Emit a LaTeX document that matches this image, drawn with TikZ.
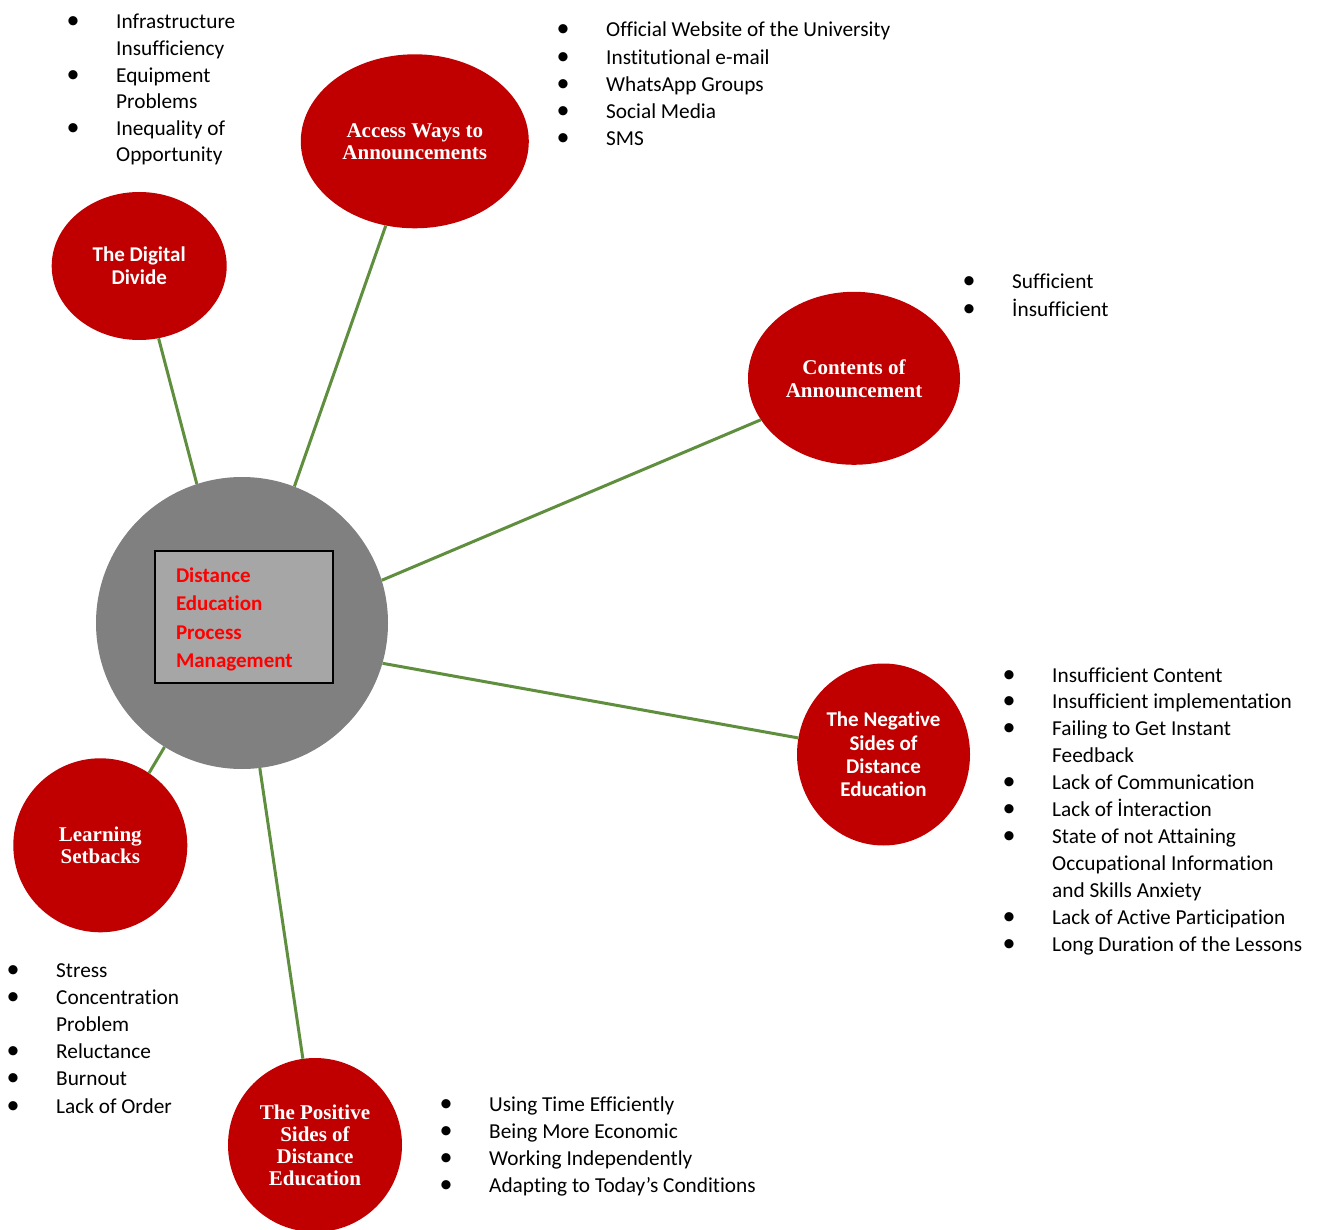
\documentclass[tikz,border=0pt]{standalone}
\usepackage{fontspec}
\setmainfont{Carlito}[Ligatures={NoCommon}]
\newfontfamily\tnrfont{Liberation Serif}
\usetikzlibrary{shapes.geometric}
\definecolor{dred}{HTML}{C00000}
\definecolor{lgreen}{HTML}{5F8F3E}
\definecolor{hubgray}{HTML}{808080}
\definecolor{boxgray}{HTML}{A6A6A6}
\newcommand{\bitem}[1]{\makebox[0pt]{\fontsize{26}{26}\selectfont\textbullet}\hspace{43pt}#1}
\newcommand{\bcont}[1]{\hspace{43pt}#1}
\tikzset{
  lst/.style={font=\fontsize{21.3}{#1}\selectfont, inner sep=0pt, anchor=base west},
  blob/.style={ellipse, fill=dred, draw=none, inner sep=0pt, text=white, align=center},
  tnrlab/.style={font=\tnrfont\bfseries\fontsize{21}{22}\selectfont},
  cablab/.style={font=\bfseries\fontsize{21}{23.3}\selectfont},
  conn/.style={draw=lgreen, line width=3pt}
}
\begin{document}
\begin{tikzpicture}[x=1pt,y=-1pt]
\useasboundingbox (0,0) rectangle (1317,1230);

% hub
\node[circle, fill=hubgray, minimum size=292, inner sep=0pt] (hub) at (242,623) {};
\node[draw=black, line width=2pt, fill=boxgray, minimum width=178, minimum height=132,
      text width=136, inner xsep=21pt, inner ysep=0pt, align=left, text=red,
      font=\bfseries\fontsize{21}{28.3}\selectfont] (box) at (244,616.5)
      {\parbox{136pt}{\vspace*{6pt}Distance\\Education\\Process\\Management}};

% satellites
\node[blob, cablab, minimum width=175, minimum height=148] (dd) at (139.2,266) {The Digital\\Divide};
\node[blob, tnrlab, minimum width=228, minimum height=174] (aw) at (414.8,141.3) {Access Ways to\\Announcements};
\node[blob, tnrlab, font=\tnrfont\bfseries\fontsize{21}{23}\selectfont, minimum width=212, minimum height=173] (ca) at (854,378.3) {Contents of\\Announcement};
\node[blob, cablab, minimum width=173, minimum height=182] (ns) at (883.5,754.5) {The Negative\\Sides of\\Distance\\Education};
\node[blob, tnrlab, minimum width=174, minimum height=174] (ls) at (100.3,845.3) {Learning\\Setbacks};
\node[blob, tnrlab, minimum width=174, minimum height=174] (ps) at (315,1145) {The Positive\\Sides of\\Distance\\Education};

% connectors
\draw[conn] (hub.108.1) -- (dd.-75.4);
\draw[conn] (hub.69.9) -- (aw.-109.6);
\draw[conn] (hub.17.6) -- (ca.-156.5);
\draw[conn] (hub.-16.7) -- (ns.169.3);
\draw[conn] (hub.-122.1) -- (ls.56.6);
\draw[conn] (hub.-83.9) -- (ps.98.9);

% lists
\node[lst=26.6] (l1) at (73,29) {\begin{tabular}[t]{@{}l@{}}
\bitem{Infrastructure}\\ \bcont{Insufficiency}\\
\bitem{Equipment}\\ \bcont{Problems}\\
\bitem{Inequality of}\\ \bcont{Opportunity}
\end{tabular}};

\node[lst=27.2] (l2) at (563,37) {\begin{tabular}[t]{@{}l@{}}
\bitem{Official Website of the University}\\
\bitem{Institutional e-mail}\\
\bitem{WhatsApp Groups}\\
\bitem{Social Media}\\
\bitem{SMS}
\end{tabular}};

\node[lst=28] (l3) at (969,289) {\begin{tabular}[t]{@{}l@{}}
\bitem{Sufficient}\\
\bitem{İnsufficient}
\end{tabular}};

\node[lst=26.9] (l4) at (1009,682) {\begin{tabular}[t]{@{}l@{}}
\bitem{Insufficient Content}\\
\bitem{Insufficient implementation}\\
\bitem{Failing to Get Instant}\\ \bcont{Feedback}\\
\bitem{Lack of Communication}\\
\bitem{Lack of İnteraction}\\
\bitem{State of not Attaining}\\ \bcont{Occupational Information}\\ \bcont{and Skills Anxiety}\\
\bitem{Lack of Active Participation}\\
\bitem{Long Duration of the Lessons}
\end{tabular}};

\node[lst=27.2] (l5) at (13,977) {\begin{tabular}[t]{@{}l@{}}
\bitem{Stress}\\
\bitem{Concentration}\\ \bcont{Problem}\\
\bitem{Reluctance}\\
\bitem{Burnout}\\
\bitem{Lack of Order}
\end{tabular}};

\node[lst=27.3] (l6) at (446,1111) {\begin{tabular}[t]{@{}l@{}}
\bitem{Using Time Efficiently}\\
\bitem{Being More Economic}\\
\bitem{Working Independently}\\
\bitem{Adapting to Today’s Conditions}
\end{tabular}};
\end{tikzpicture}
\end{document}
